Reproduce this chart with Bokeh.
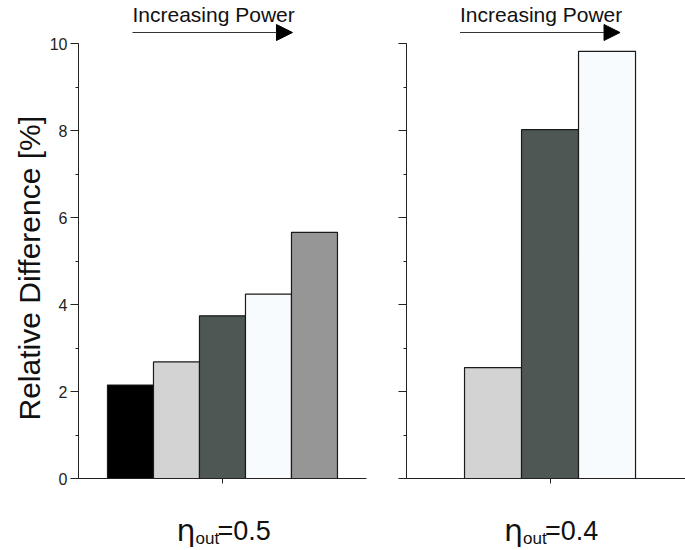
from bokeh.plotting import figure
from bokeh.layouts import row
from bokeh.models import (Range1d, SingleIntervalTicker, FixedTicker, Label, Arrow, NormalHead, Title)
from bokeh.embed import file_html
from bokeh.resources import INLINE

# ---- data ----
left_values = [2.15, 2.68, 3.74, 4.24, 5.66]
left_colors = ["#000000", "#d3d3d3", "#4f5755", "#f8fbfe", "#969696"]
left_eta = "=0.5"

right_values = [2.55, 8.02, 9.82]
right_colors = ["#d3d3d3", "#4f5755", "#f8fbfe"]
right_eta = "=0.4"

y_label = "Relative Difference [%]"
top_text = "Increasing Power"

FONT = "Liberation Sans"
H = 550
Y0_PX = 478          # pixel row of y=0
PXU = 43.5           # pixels per y unit
TXT_SHIFT = 8        # compensation for label baseline rendering


def ydata(py):
    return (Y0_PX - py) / PXU


def make_panel(values, colors, eta_text, width, x_start, px_per_x, axis_px, border_left, show_labels):
    n = len(values)
    xs = list(range(1, n + 1))
    center = (n + 1) / 2
    frame_w = width - border_left
    x_end = x_start + frame_w / px_per_x
    p = figure(width=width, height=H, output_backend="svg", toolbar_location=None,
               x_range=Range1d(x_start, x_end), y_range=Range1d(ydata(H), ydata(0)),
               min_border_left=border_left, min_border_right=0,
               min_border_top=0, min_border_bottom=0)
    p.vbar(x=xs, top=values, width=1.0, fill_color=colors, line_color="#1a1a1a", line_width=1.2)
    p.grid.visible = False
    p.outline_line_color = None
    p.background_fill_color = "white"
    p.border_fill_color = "white"

    # y axis
    p.yaxis.bounds = (0, 10)
    p.yaxis.ticker = SingleIntervalTicker(interval=2, num_minor_ticks=2)
    p.yaxis.major_tick_out = 8
    p.yaxis.major_tick_in = 0
    p.yaxis.minor_tick_out = 3
    p.yaxis.minor_tick_in = 0
    p.yaxis.axis_line_color = "#222222"
    p.yaxis.major_tick_line_color = "#222222"
    p.yaxis.minor_tick_line_color = "#222222"
    p.yaxis.major_label_text_font = FONT
    p.yaxis.major_label_text_font_size = "16px"
    p.yaxis.major_label_text_color = "#222222"
    p.yaxis.major_label_standoff = 3
    if show_labels:
        p.add_layout(Title(text=y_label, align="left", offset=130, text_font=FONT,
                           text_font_size="30px", text_font_style="normal",
                           text_color="#111111", standoff=2), "left")
    else:
        p.yaxis.major_label_text_color = None

    # x axis: single centre tick, fixed at y=0
    p.xaxis.fixed_location = 0
    p.xaxis.bounds = (x_start, x_start + axis_px / px_per_x)
    p.xaxis.ticker = FixedTicker(ticks=[center])
    p.xaxis.major_label_text_color = None
    p.xaxis.major_label_text_font_size = "0px"
    p.xaxis.major_tick_out = 5
    p.xaxis.major_tick_in = 0
    p.xaxis.minor_tick_line_color = None
    p.xaxis.axis_line_color = "#222222"
    p.xaxis.major_tick_line_color = "#222222"

    xu = 1.0 / px_per_x
    # top annotation
    p.add_layout(Label(x=center, y=ydata(22 - TXT_SHIFT), x_offset=-90, text=top_text,
                       text_font=FONT, text_font_size="21px", text_color="#111111",
                       text_align="left", text_baseline="alphabetic"))
    p.add_layout(Arrow(x_start=center - 90 * xu, y_start=ydata(32),
                       x_end=center + 70 * xu, y_end=ydata(32),
                       line_color="#333333", line_width=1.2,
                       end=NormalHead(size=16, fill_color="black", line_color="black")))

    # bottom eta label
    p.add_layout(Label(x=center, y=ydata(538 - TXT_SHIFT), x_offset=-46, text="η",
                       text_font="DejaVu Sans", text_font_size="30px", text_color="#111111",
                       text_align="left", text_baseline="alphabetic"))
    p.add_layout(Label(x=center, y=ydata(546 - TXT_SHIFT), x_offset=-27, text="out", text_font=FONT,
                       text_font_size="17px", text_color="#111111", text_align="left",
                       text_baseline="alphabetic"))
    p.add_layout(Label(x=center, y=ydata(538 - TXT_SHIFT), x_offset=-5, text=eta_text, text_font=FONT,
                       text_font_size="27px", text_color="#111111", text_align="left",
                       text_baseline="alphabetic"))
    return p


p1 = make_panel(left_values, left_colors, left_eta, width=386, x_start=-0.13, px_per_x=46,
                axis_px=288, border_left=78, show_labels=True)
p2 = make_panel(right_values, right_colors, right_eta, width=299, x_start=-0.518, px_per_x=57,
                axis_px=279, border_left=20, show_labels=False)

layout = row(p1, p2)
open("out.html", "w").write(file_html(layout, INLINE))
